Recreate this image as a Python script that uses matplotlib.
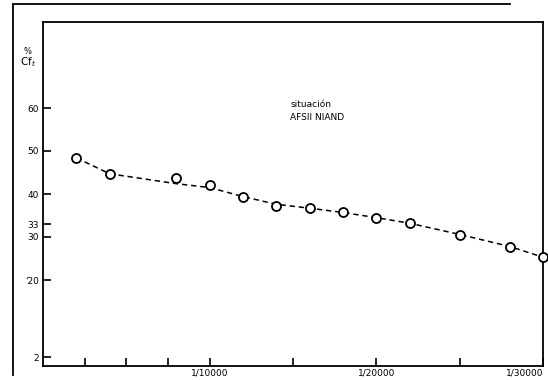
import matplotlib
matplotlib.use("Agg")
import matplotlib.pyplot as plt
from matplotlib.lines import Line2D

# scale denominators (x) and % Cf_t measured (points) / fitted curve (dashed)
scale = [2000, 4000, 8000, 10000, 12000, 14000, 16000, 18000, 20000, 22000, 25000, 28000, 30000]
cft = [48.4, 44.7, 43.8, 42.0, 39.4, 37.2, 36.7, 35.9, 34.5, 33.2, 30.4, 27.6, 25.3]
curve = [48.4, 44.7, 42.4, 41.5, 39.4, 37.6, 36.7, 35.7, 34.5, 33.2, 30.6, 27.8, 25.3]

yticks = [2, 20, 30, 33, 40, 50, 60]
ytick_labels = ["2", "'20", "30", "33", "40", "50", "60"]
xticks = [2500, 5000, 7500, 10000, 15000, 20000, 25000, 30000]
xtick_labels = ["", "", "", "1/10000", "", "1/20000", "", "1/30000"]

fig = plt.figure(figsize=(5.48, 3.80), dpi=100)
ax = fig.add_axes([43 / 548, 14 / 380, 500 / 548, 344 / 380])

ax.plot(scale, curve, color="black", linestyle=(0, (3.5, 2.5)), linewidth=1.1, zorder=2)
ax.plot(scale, cft, linestyle="none", marker="o", markersize=6.5,
        markerfacecolor="white", markeredgecolor="black", markeredgewidth=1.3,
        zorder=3, clip_on=False)

ax.set_xlim(0, 30000)
ax.set_ylim(0, 80)
ax.set_yticks(yticks)
ax.set_yticklabels(ytick_labels)
ax.set_xticks(xticks)
ax.set_xticklabels(xtick_labels)
for lab in ax.get_xticklabels():
    if lab.get_text() == "1/30000":
        lab.set_horizontalalignment("right")

ax.tick_params(axis="both", direction="in", length=6, width=1.2, labelsize=6.5, pad=2)
ax.tick_params(axis="y", pad=3)
for s in ax.spines.values():
    s.set_linewidth(1.3)

ax.text(0.495, 0.752, "situación", transform=ax.transAxes, fontsize=6.5)
ax.text(0.495, 0.716, "AFSII NIAND", transform=ax.transAxes, fontsize=6.5)

# y label at top left
fig.text(27 / 548, 1 - 51 / 380, "%", fontsize=6, ha="center", va="center")
fig.text(28 / 548, 1 - 62 / 380, "Cf$_t$", fontsize=7.5, ha="center", va="center")

# outer frame of the scanned page
fig.add_artist(Line2D([13 / 548, 13 / 548], [5 / 380, 1 - 5 / 380], color="black", linewidth=1.3))
fig.add_artist(Line2D([13 / 548, 510 / 548], [1 - 4 / 380, 1 - 4 / 380], color="black", linewidth=1.3))

fig.savefig("out.png", dpi=100)
